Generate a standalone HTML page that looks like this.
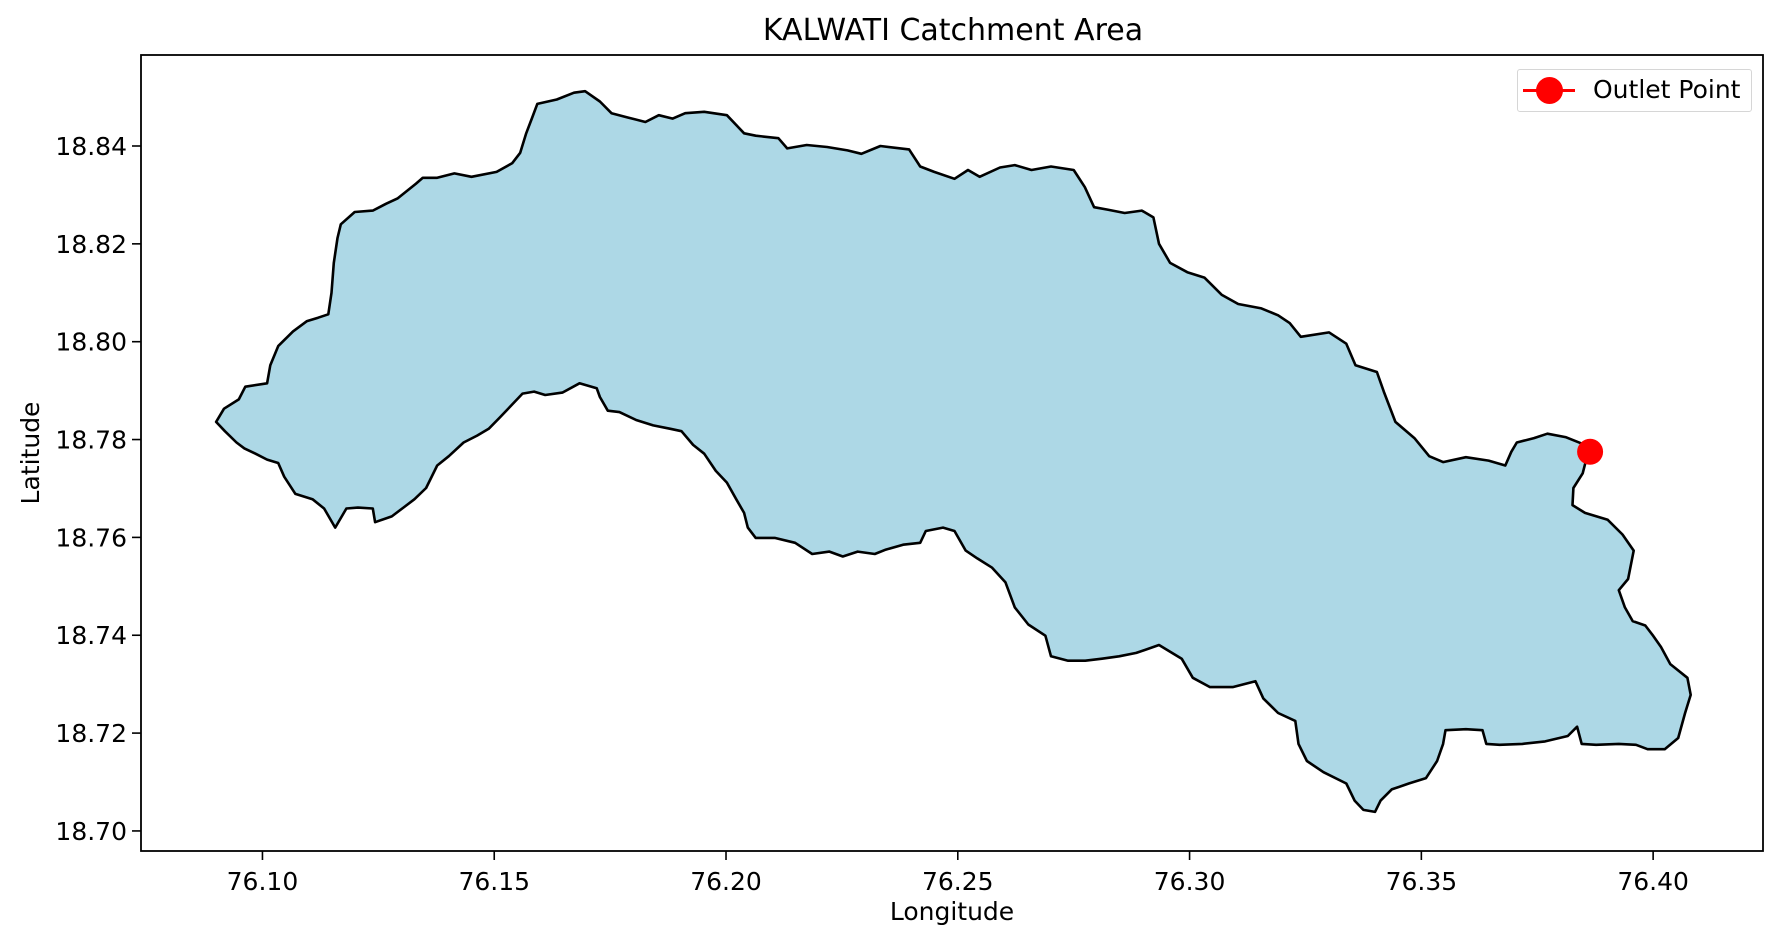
<!DOCTYPE html>
<html><head><meta charset="utf-8"><style>
html,body{margin:0;padding:0;background:#fff;}
svg{display:block;font-family:"DejaVu Sans","Liberation Sans",sans-serif;}
</style></head><body>
<svg id="chart" width="1781" height="944" viewBox="0 0 1781 944"></svg>
<script>
const lonData=[76.0900,76.0917,76.0949,76.0963,76.1010,76.1017,76.1034,76.1066,76.1096,76.1120,76.1142,76.1149,76.1154,76.1162,76.1169,76.1199,76.1238,76.1267,76.1292,76.1331,76.1346,76.1377,76.1414,76.1451,76.1505,76.1539,76.1556,76.1569,76.1581,76.1593,76.1635,76.1672,76.1696,76.1728,76.1753,76.1789,76.1826,76.1855,76.1885,76.1912,76.1953,76.2002,76.2039,76.2064,76.2113,76.2132,76.2174,76.2218,76.2262,76.2292,76.2333,76.2395,76.2419,76.2449,76.2493,76.2522,76.2547,76.2591,76.2623,76.2659,76.2701,76.2750,76.2774,76.2794,76.2823,76.2860,76.2897,76.2922,76.2934,76.2958,76.2995,76.3032,76.3069,76.3105,76.3155,76.3191,76.3216,76.3240,76.3301,76.3338,76.3358,76.3404,76.3419,76.3444,76.3485,76.3517,76.3547,76.3596,76.3645,76.3681,76.3694,76.3706,76.3743,76.3772,76.3811,76.3848,76.3860,76.3848,76.3828,76.3826,76.3853,76.3902,76.3934,76.3958,76.3946,76.3926,76.3939,76.3956,76.3983,76.4000,76.4017,76.4037,76.4074,76.4081,76.4069,76.4054,76.4025,76.3988,76.3963,76.3926,76.3877,76.3846,76.3836,76.3816,76.3767,76.3718,76.3669,76.3640,76.3632,76.3596,76.3552,76.3547,76.3534,76.3510,76.3473,76.3436,76.3412,76.3400,76.3375,76.3356,76.3338,76.3289,76.3253,76.3235,76.3228,76.3191,76.3159,76.3142,76.3093,76.3044,76.3007,76.2983,76.2934,76.2885,76.2848,76.2811,76.2775,76.2738,76.2701,76.2689,76.2652,76.2623,76.2603,76.2574,76.2542,76.2517,76.2493,76.2468,76.2431,76.2419,76.2382,76.2345,76.2321,76.2284,76.2252,76.2223,76.2186,76.2149,76.2105,76.2064,76.2047,76.2039,76.2022,76.2002,76.1978,76.1953,76.1929,76.1904,76.1880,76.1843,76.1806,76.1770,76.1745,76.1728,76.1721,76.1684,76.1647,76.1610,76.1586,76.1561,76.1542,76.1512,76.1488,76.1463,76.1434,76.1402,76.1377,76.1353,76.1328,76.1304,76.1279,76.1243,76.1238,76.1206,76.1181,76.1157,76.1133,76.1108,76.1071,76.1047,76.1034,76.1010,76.0985,76.0961,76.0944,76.0919];
const latData=[18.7836,18.7863,18.7882,18.7908,18.7915,18.7952,18.7991,18.8021,18.8042,18.8049,18.8056,18.8100,18.8161,18.8212,18.8240,18.8265,18.8268,18.8282,18.8293,18.8323,18.8335,18.8335,18.8344,18.8337,18.8347,18.8365,18.8386,18.8426,18.8456,18.8486,18.8495,18.8509,18.8512,18.8491,18.8467,18.8458,18.8449,18.8463,18.8456,18.8467,18.8470,18.8463,18.8426,18.8421,18.8416,18.8395,18.8402,18.8398,18.8391,18.8384,18.8400,18.8393,18.8358,18.8347,18.8333,18.8351,18.8337,18.8356,18.8361,18.8351,18.8358,18.8351,18.8316,18.8275,18.8270,18.8263,18.8268,18.8254,18.8200,18.8161,18.8142,18.8131,18.8096,18.8077,18.8068,18.8054,18.8038,18.8010,18.8019,18.7996,18.7952,18.7938,18.7898,18.7836,18.7803,18.7766,18.7754,18.7764,18.7757,18.7747,18.7775,18.7794,18.7803,18.7812,18.7805,18.7791,18.7775,18.7731,18.7701,18.7666,18.7650,18.7636,18.7606,18.7573,18.7515,18.7492,18.7457,18.7429,18.7420,18.7399,18.7376,18.7341,18.7313,18.7278,18.7241,18.7190,18.7167,18.7167,18.7176,18.7178,18.7176,18.7178,18.7213,18.7194,18.7183,18.7178,18.7176,18.7178,18.7206,18.7208,18.7206,18.7178,18.7143,18.7108,18.7097,18.7085,18.7062,18.7039,18.7043,18.7062,18.7097,18.7120,18.7143,18.7178,18.7225,18.7241,18.7271,18.7306,18.7294,18.7294,18.7313,18.7352,18.7380,18.7364,18.7357,18.7352,18.7348,18.7348,18.7357,18.7399,18.7422,18.7457,18.7508,18.7538,18.7557,18.7573,18.7613,18.7620,18.7613,18.7589,18.7585,18.7575,18.7566,18.7571,18.7561,18.7571,18.7566,18.7589,18.7599,18.7599,18.7620,18.7650,18.7678,18.7712,18.7736,18.7771,18.7789,18.7817,18.7822,18.7829,18.7840,18.7856,18.7859,18.7887,18.7905,18.7915,18.7896,18.7891,18.7898,18.7894,18.7875,18.7845,18.7822,18.7808,18.7794,18.7766,18.7747,18.7701,18.7678,18.7661,18.7643,18.7631,18.7659,18.7661,18.7659,18.7620,18.7659,18.7678,18.7689,18.7724,18.7752,18.7759,18.7771,18.7782,18.7794,18.7817];
const outletLon=[76.3864];
const outletLat=[18.7775];
const xTicks=[76.10,76.15,76.20,76.25,76.30,76.35,76.40];
const yTicks=[18.70,18.72,18.74,18.76,18.78,18.80,18.82,18.84];

const L=141,R=1763,T=55,B=851;
const xMin=76.0738,xMax=76.4237,yMin=18.6959,yMax=18.8586;
const sx=v=>L+(v-xMin)/(xMax-xMin)*(R-L);
const sy=v=>B-(v-yMin)/(yMax-yMin)*(B-T);
const NS="http://www.w3.org/2000/svg";
const svg=document.getElementById('chart');
function mk(tag,attrs,parent){const e=document.createElementNS(NS,tag);for(const k in attrs)e.setAttribute(k,attrs[k]);(parent||svg).appendChild(e);return e;}

let d='';
for(let i=0;i<lonData.length;i++){d+=(i?'L':'M')+sx(lonData[i]).toFixed(1)+' '+sy(latData[i]).toFixed(1);}
d+='Z';
const poly=mk('path',{d:d,fill:'#add8e6',stroke:'#000','stroke-width':2.6,'stroke-linejoin':'round'});



for(let i=0;i<outletLon.length;i++){
  const c=mk('circle',{cx:sx(outletLon[i]),cy:sy(outletLat[i]),r:13,fill:'#ff0000'});
  
  
}

const frame=mk('rect',{x:L,y:T,width:R-L,height:B-T,fill:'none',stroke:'#000','stroke-width':1.8});



xTicks.forEach(v=>{
  const x=sx(v);
  const t=mk('line',{x1:x,x2:x,y1:B,y2:B+9,stroke:'#000','stroke-width':1.6});
  
  
  const lb=mk('text',{x:x,y:B+39,'font-size':25,'text-anchor':'middle',fill:'#000'});
  lb.textContent=v.toFixed(2);
  
  
});
yTicks.forEach(v=>{
  const y=sy(v);
  const t=mk('line',{x1:L-9,x2:L,y1:y,y2:y,stroke:'#000','stroke-width':1.6});
  
  
  const lb=mk('text',{x:L-14,y:y+9,'font-size':25,'text-anchor':'end',fill:'#000'});
  lb.textContent=v.toFixed(2);
  
  
});
</script>
<div style="position:absolute;left:0;top:0;width:1781px;height:944px;pointer-events:none;font-family:'DejaVu Sans','Liberation Sans',sans-serif;color:#000;">
  <div style="position:absolute;left:0;width:1906px;top:13px;text-align:center;font-size:30px;line-height:36px;">KALWATI Catchment Area</div>
  <div style="position:absolute;left:141px;width:1622px;top:897px;text-align:center;font-size:25px;line-height:30px;">Longitude</div>
  <div style="position:absolute;left:-69px;top:438px;width:200px;text-align:center;font-size:25px;line-height:30px;transform:rotate(-90deg);">Latitude</div>
  <div style="position:absolute;left:1517px;top:69px;width:233px;height:41px;border:1px solid #d6d6d6;border-radius:3px;background:rgba(255,255,255,0.85);">
    <div style="position:absolute;left:5px;top:19px;width:52px;height:3px;background:#ff0000;"></div>
    <div style="position:absolute;left:18px;top:7px;width:27px;height:27px;border-radius:50%;background:#ff0000;"></div>
    <div style="position:absolute;left:75px;top:5px;font-size:25px;line-height:30px;white-space:nowrap;">Outlet Point</div>
  </div>
</div>
</body></html>
